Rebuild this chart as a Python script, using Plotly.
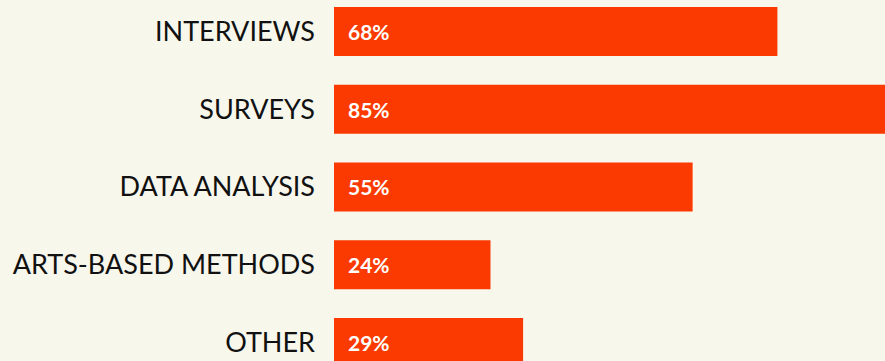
import plotly.graph_objects as go

# Research methods used, share of respondents (%)
methods = ["INTERVIEWS", "SURVEYS", "DATA ANALYSIS", "ARTS-BASED METHODS", "OTHER"]
shares = [68, 85, 55, 24, 29]

BG = "#F8F7EC"
BAR = "#FA3A00"
FONT = "Lato, 'Open Sans', sans-serif"

fig = go.Figure(
    go.Bar(
        x=shares,
        y=methods,
        orientation="h",
        marker=dict(color=BAR, line=dict(width=0)),
        width=0.63,
        hoverinfo="skip",
    )
)

# Percentage labels at the inner start of each bar
for m, v in zip(methods, shares):
    fig.add_annotation(
        x=0, y=m, xref="x", yref="y",
        text=f"<b>{v}%</b>",
        showarrow=False,
        xanchor="left", yanchor="middle",
        xshift=12,
        font=dict(family=FONT, size=21, color="white"),
    )

fig.update_layout(
    width=885,
    height=361,
    margin=dict(l=334, r=0, t=0, b=0),
    paper_bgcolor=BG,
    plot_bgcolor=BG,
    showlegend=False,
    xaxis=dict(range=[0, 84.5], visible=False, fixedrange=True),
    yaxis=dict(
        type="category",
        categoryorder="array",
        categoryarray=methods,
        range=[4.238, -0.405],
        showgrid=False,
        zeroline=False,
        showline=False,
        ticks="",
        ticklabelstandoff=18,
        tickfont=dict(family=FONT, size=27, color="#111111"),
        fixedrange=True,
    ),
)

fig.write_html("out.html")
